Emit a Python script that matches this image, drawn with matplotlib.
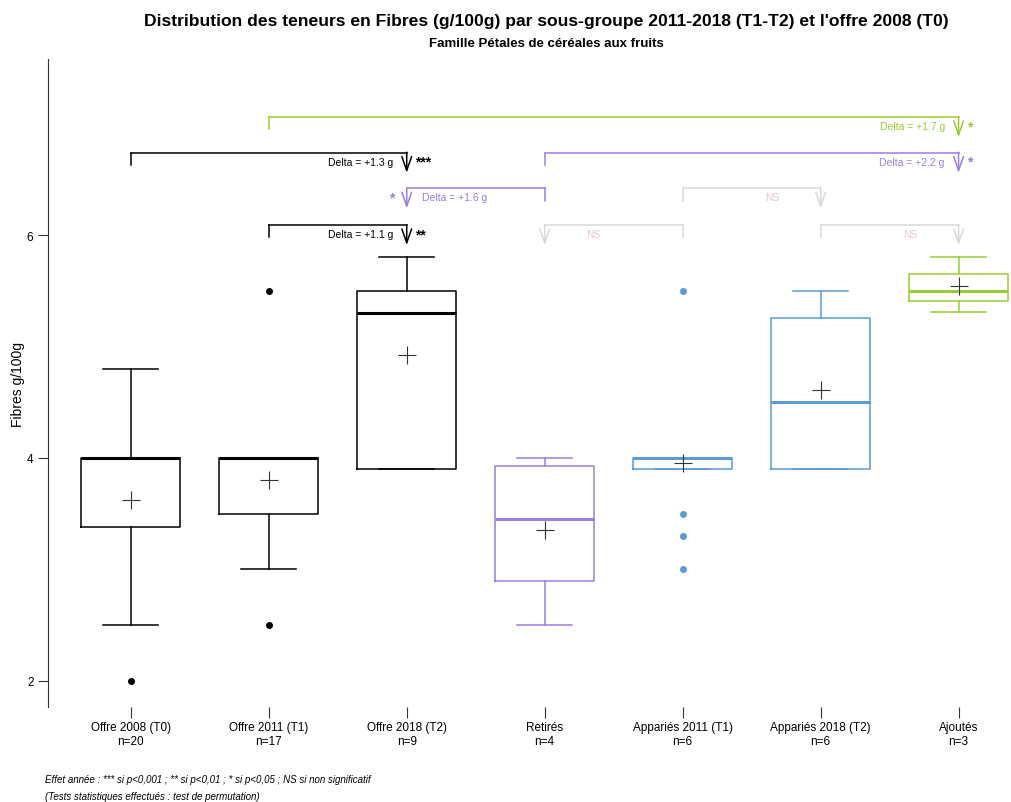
import matplotlib.pyplot as plt

plt.rcParams['font.family'] = ['Liberation Sans', 'DejaVu Sans']

# Données
groupes = ['Offre 2008 (T0)', 'Offre 2011 (T1)', 'Offre 2018 (T2)', 'Retirés',
           'Appariés 2011 (T1)', 'Appariés 2018 (T2)', 'Ajoutés']
effectifs = [20, 17, 9, 4, 6, 6, 3]
whis_bas = [2.5, 3.0, 3.9, 2.5, 3.9, 3.9, 5.31]
q1 = [3.38, 3.5, 3.9, 2.89, 3.9, 3.9, 5.41]
mediane = [4.0, 4.0, 5.3, 3.45, 4.0, 4.5, 5.5]
q3 = [4.0, 4.0, 5.5, 3.93, 4.0, 5.26, 5.65]
whis_haut = [4.8, 4.0, 5.8, 4.0, 4.0, 5.5, 5.8]
moyenne = [3.62, 3.8, 4.92, 3.35, 3.95, 4.61, 5.54]
atypiques = [[2.0], [5.5, 2.5], [], [], [5.5, 3.5, 3.3, 3.0], [], []]
couleurs = ['black', 'black', 'black', '#9b7fdc', '#5b9bd5', '#5b9bd5', '#9acd32']

# Comparaisons : (groupe de, groupe vers, hauteur, texte, signif, couleur)
comparaisons = [
    (2, 7, 7.06, 'Delta = +1.7 g', '*', '#9acd32'),
    (1, 3, 6.74, 'Delta = +1.3 g', '***', 'black'),
    (4, 7, 6.74, 'Delta = +2.2 g', '*', '#9b7fdc'),
    (4, 3, 6.42, 'Delta = +1.6 g', '*', '#9b7fdc'),
    (5, 6, 6.42, 'NS', '', '#d8d8d8'),
    (2, 3, 6.09, 'Delta = +1.1 g', '**', 'black'),
    (5, 4, 6.09, 'NS', '', '#d8d8d8'),
    (6, 7, 6.09, 'NS', '', '#d8d8d8'),
]

fig = plt.figure(figsize=(10.11, 8.03), dpi=100)
ax = fig.add_axes([0.0475, 0.118, 0.9525, 0.807])

stats = []
for i in range(len(groupes)):
    stats.append({'whislo': whis_bas[i], 'q1': q1[i], 'med': mediane[i], 'q3': q3[i],
                  'whishi': whis_haut[i], 'mean': moyenne[i], 'fliers': atypiques[i]})

positions = list(range(1, len(groupes) + 1))
for i, st in enumerate(stats):
    c = couleurs[i]
    ax.bxp([st], positions=[positions[i]], widths=0.72, capwidths=0.4,
           showmeans=True, showfliers=True,
           boxprops=dict(color=c, linewidth=1.1),
           whiskerprops=dict(color=c, linewidth=1.1),
           capprops=dict(color=c, linewidth=1.1),
           medianprops=dict(color=c, linewidth=2.2),
           meanprops=dict(marker='+', markeredgecolor='#333333', markersize=13,
                          markeredgewidth=0.8),
           flierprops=dict(marker='o', markerfacecolor=c, markeredgecolor=c,
                           markersize=4))

# Crochets de comparaison
for a, b, h, txt, sig, c in comparaisons:
    ax.plot([a, b], [h, h], color=c, lw=1.1)
    ax.plot([a, a], [h, h - 0.11], color=c, lw=1.1)
    ax.annotate('', xy=(b, h - 0.18), xytext=(b, h + 0.005),
                arrowprops=dict(arrowstyle='->, head_length=1.0, head_width=0.35',
                                color=c, lw=1.1, shrinkA=0, shrinkB=0))
    if txt == 'NS':
        ax.text((a + b) / 2 + (b - a) * 0.15, h - 0.08, txt,
                color='#e2c9d2', fontsize=7.5, ha='center', va='center')
    elif b > a:
        ax.text(b - 0.1, h - 0.08, txt, color=c, fontsize=7.5, ha='right', va='center')
        ax.text(b + 0.06, h - 0.08, sig, color=c, fontsize=10, ha='left', va='center',
                fontweight='bold')
    else:
        ax.text(b + 0.11, h - 0.08, txt, color=c, fontsize=7.5, ha='left', va='center')
        ax.text(b - 0.09, h - 0.08, sig, color=c, fontsize=10, ha='right', va='center',
                fontweight='bold')

ax.set_xlim(0.4, 7.38)
ax.set_ylim(1.76, 7.58)
ax.set_yticks([2, 4, 6])
ax.set_xticks(positions)
ax.set_xticklabels([g + '\nn=' + str(n) for g, n in zip(groupes, effectifs)], fontsize=8.5)
ax.tick_params(axis='x', length=8, pad=2, color='#333333')
ax.tick_params(axis='y', length=7, labelsize=8.5, color='#333333')
for s in ['top', 'right', 'bottom']:
    ax.spines[s].set_visible(False)
ax.spines['left'].set_color('#333333')
ax.set_ylabel('Fibres g/100g', fontsize=10)
ax.yaxis.set_label_coords(-0.024, 0.5)

fig.text(0.54, 0.973, "Distribution des teneurs en Fibres (g/100g) par sous-groupe 2011-2018 (T1-T2) et l'offre 2008 (T0)",
         ha='center', va='center', fontsize=12.6, fontweight='bold')
fig.text(0.54, 0.945, 'Famille Pétales de céréales aux fruits', ha='center', va='center',
         fontsize=9.5, fontweight='bold')
fig.text(0.045, 0.029, "Effet année : *** si p<0,001 ; ** si p<0,01 ; * si p<0,05 ; NS si non significatif",
         fontsize=7, style='italic', va='center')
fig.text(0.045, 0.007, '(Tests statistiques effectués : test de permutation)',
         fontsize=7, style='italic', va='center')

fig.savefig('out.png', dpi=100)
